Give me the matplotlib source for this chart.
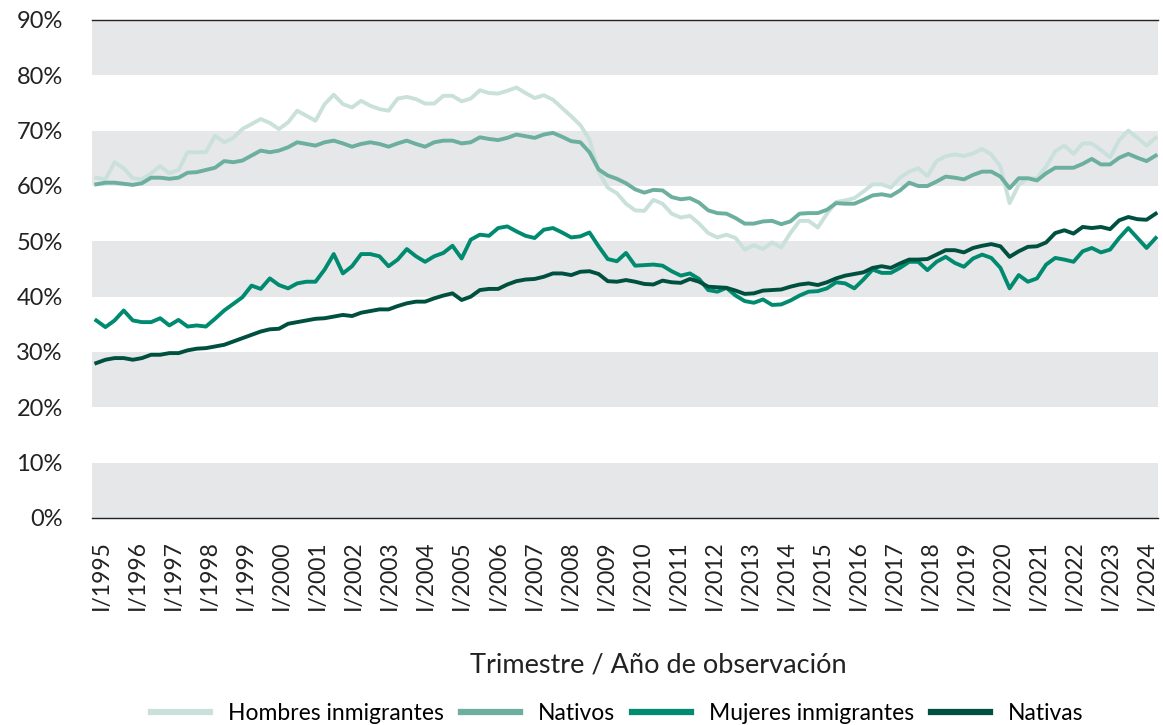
import matplotlib
matplotlib.use("Agg")
import matplotlib.pyplot as plt
import numpy as np

plt.rcParams['font.family'] = ['Lato', 'DejaVu Sans']

# Quarterly data, I/1995 .. I/2024 (tasa de empleo, %)
years = list(range(1995, 2025))
tick_labels = [f"I/{y}" for y in years]

hombres_inmigrantes = [
    61.5, 61.2, 64.3, 63.2, 61.4, 61.2, 62.3, 63.6, 62.3, 62.9,
    66.1, 66.1, 66.1, 69.1, 67.9, 68.7, 70.3, 71.2, 72.1, 71.4,
    70.3, 71.5, 73.6, 72.7, 71.8, 74.8, 76.5, 74.8, 74.2, 75.4,
    74.5, 73.9, 73.6, 75.8, 76.1, 75.7, 74.9, 74.9, 76.3, 76.3,
    75.3, 75.8, 77.3, 76.8, 76.7, 77.2, 77.8, 76.8, 75.9, 76.4,
    75.6, 74.1, 72.6, 71.0, 68.4, 62.6, 59.7, 58.7, 56.8, 55.6,
    55.5, 57.5, 56.8, 55.0, 54.3, 54.6, 53.2, 51.5, 50.7, 51.2,
    50.6, 48.5, 49.3, 48.6, 49.8, 48.9, 51.5, 53.7, 53.7, 52.5,
    55.0, 57.1, 57.4, 57.8, 59.0, 60.3, 60.3, 59.7, 61.5, 62.6,
    63.2, 61.8, 64.5, 65.4, 65.7, 65.4, 65.9, 66.7, 65.7, 63.5,
    56.9, 60.2, 61.4, 61.4, 63.5, 66.3, 67.3, 65.8, 67.7, 67.7,
    66.5, 65.2, 68.3, 70.0, 68.7, 67.3, 68.7,
]

nativos = [
    60.3, 60.6, 60.6, 60.4, 60.2, 60.5, 61.5, 61.5, 61.3, 61.5,
    62.4, 62.5, 62.9, 63.3, 64.5, 64.3, 64.6, 65.5, 66.4, 66.1,
    66.4, 67.0, 67.9, 67.6, 67.3, 67.9, 68.2, 67.7, 67.1, 67.6,
    67.9, 67.6, 67.1, 67.7, 68.2, 67.6, 67.1, 67.9, 68.2, 68.2,
    67.7, 67.9, 68.8, 68.5, 68.3, 68.7, 69.3, 69.0, 68.7, 69.3,
    69.6, 68.9, 68.1, 67.9, 66.1, 63.0, 61.9, 61.3, 60.5, 59.4,
    58.8, 59.3, 59.2, 58.0, 57.6, 57.8, 57.0, 55.6, 55.1, 55.0,
    54.2, 53.2, 53.2, 53.6, 53.7, 53.1, 53.6, 55.0, 55.1, 55.1,
    55.7, 56.9, 56.8, 56.8, 57.5, 58.3, 58.5, 58.2, 59.2, 60.6,
    60.0, 60.0, 60.8, 61.7, 61.5, 61.2, 62.0, 62.6, 62.6, 61.7,
    59.6, 61.4, 61.4, 61.0, 62.3, 63.3, 63.3, 63.3, 64.0, 64.9,
    63.9, 63.9, 65.1, 65.8, 65.1, 64.5, 65.5,
]

mujeres_inmigrantes = [
    35.7, 34.5, 35.7, 37.5, 35.7, 35.4, 35.4, 36.1, 34.8, 35.8,
    34.6, 34.8, 34.6, 36.0, 37.5, 38.7, 39.9, 42.0, 41.4, 43.3,
    42.1, 41.5, 42.4, 42.7, 42.7, 44.9, 47.7, 44.2, 45.5, 47.7,
    47.7, 47.3, 45.5, 46.7, 48.6, 47.3, 46.3, 47.3, 47.9, 49.2,
    46.9, 50.3, 51.2, 51.0, 52.4, 52.7, 51.8, 51.0, 50.6, 52.1,
    52.4, 51.6, 50.7, 50.9, 51.6, 49.1, 46.8, 46.4, 47.9, 45.6,
    45.7, 45.8, 45.6, 44.6, 43.8, 44.2, 43.2, 41.2, 40.9, 41.6,
    40.2, 39.2, 38.9, 39.5, 38.5, 38.6, 39.3, 40.2, 40.9, 41.0,
    41.5, 42.6, 42.4, 41.5, 43.1, 44.9, 44.3, 44.3, 45.2, 46.3,
    46.3, 44.8, 46.3, 47.2, 46.1, 45.4, 46.9, 47.6, 47.0, 45.2,
    41.5, 43.9, 42.7, 43.3, 45.8, 47.0, 46.7, 46.3, 48.2, 48.8,
    48.0, 48.5, 50.6, 52.4, 50.6, 48.8, 50.6,
]

nativas = [
    28.0, 28.6, 28.9, 28.9, 28.6, 28.9, 29.5, 29.5, 29.8, 29.8,
    30.3, 30.6, 30.7, 31.0, 31.3, 31.9, 32.5, 33.1, 33.7, 34.1,
    34.2, 35.1, 35.4, 35.7, 36.0, 36.1, 36.4, 36.7, 36.5, 37.1,
    37.4, 37.7, 37.7, 38.3, 38.8, 39.1, 39.1, 39.7, 40.2, 40.6,
    39.4, 40.0, 41.2, 41.4, 41.4, 42.2, 42.8, 43.1, 43.2, 43.6,
    44.2, 44.2, 43.9, 44.5, 44.6, 44.1, 42.8, 42.7, 43.0, 42.7,
    42.3, 42.2, 42.9, 42.6, 42.5, 43.2, 42.7, 41.8, 41.7, 41.6,
    41.1, 40.5, 40.6, 41.1, 41.2, 41.3, 41.8, 42.2, 42.4, 42.1,
    42.6, 43.3, 43.8, 44.1, 44.4, 45.2, 45.5, 45.2, 46.0, 46.7,
    46.7, 46.8, 47.6, 48.4, 48.4, 48.0, 48.8, 49.2, 49.5, 49.1,
    47.2, 48.2, 49.0, 49.1, 49.8, 51.5, 52.0, 51.4, 52.6, 52.4,
    52.6, 52.2, 53.8, 54.4, 54.0, 53.9, 55.0,
]

series = [
    ("Hombres inmigrantes", hombres_inmigrantes, "#c9e1da"),
    ("Nativos", nativos, "#6caf9e"),
    ("Mujeres inmigrantes", mujeres_inmigrantes, "#008a6f"),
    ("Nativas", nativas, "#00503f"),
]

W, H = 1163, 725
fig = plt.figure(figsize=(W / 100, H / 100), dpi=100)
ax = fig.add_axes([92 / W, 1 - 518 / H, 1066 / W, 498 / H])

# alternating grey bands
for lo in range(0, 90, 20):
    ax.axhspan(lo, lo + 10, color="#e6e7e9", lw=0, zorder=0)

n = len(nativos)
x = np.arange(n)
for label, vals, color in series:
    ax.plot(x, vals, color=color, lw=2.8, label=label, zorder=2)

ax.set_ylim(0, 90)
ax.set_xlim(-0.47, n - 1 + 0.25)
ax.set_yticks(range(0, 100, 10))
ax.set_yticklabels([f"{v}%" for v in range(0, 100, 10)], fontsize=17,
                   color="#222222")

# year labels sit slightly inside the first/last quarter, as in the original
q1 = np.arange(0, n, 4)
tick_pos = 0.57 + q1 * (114.43 / (n - 1))
ax.set_xticks(tick_pos)
ax.set_xticklabels(tick_labels, rotation=90, fontsize=16.5, color="#222222")
ax.tick_params(length=0)
ax.tick_params(axis="x", pad=16)
ax.tick_params(axis="y", pad=21)

for s in ["left", "right"]:
    ax.spines[s].set_visible(False)
for s in ["top", "bottom"]:
    ax.spines[s].set_linewidth(1.0)
    ax.spines[s].set_color("#222222")

fig.text(658 / W, 1 - 665 / H, "Trimestre / Año de observación",
         ha="center", va="center", fontsize=19.5, color="#222222")

fig.legend(loc="center", bbox_to_anchor=(617 / W, 1 - 714 / H), ncol=4,
           frameon=False, fontsize=16.5, handlelength=2.6, handletextpad=0.75,
           columnspacing=0.75, borderpad=0)
for line in fig.legends[0].get_lines():
    line.set_linewidth(4.5)

fig.savefig("out.png", dpi=100)
